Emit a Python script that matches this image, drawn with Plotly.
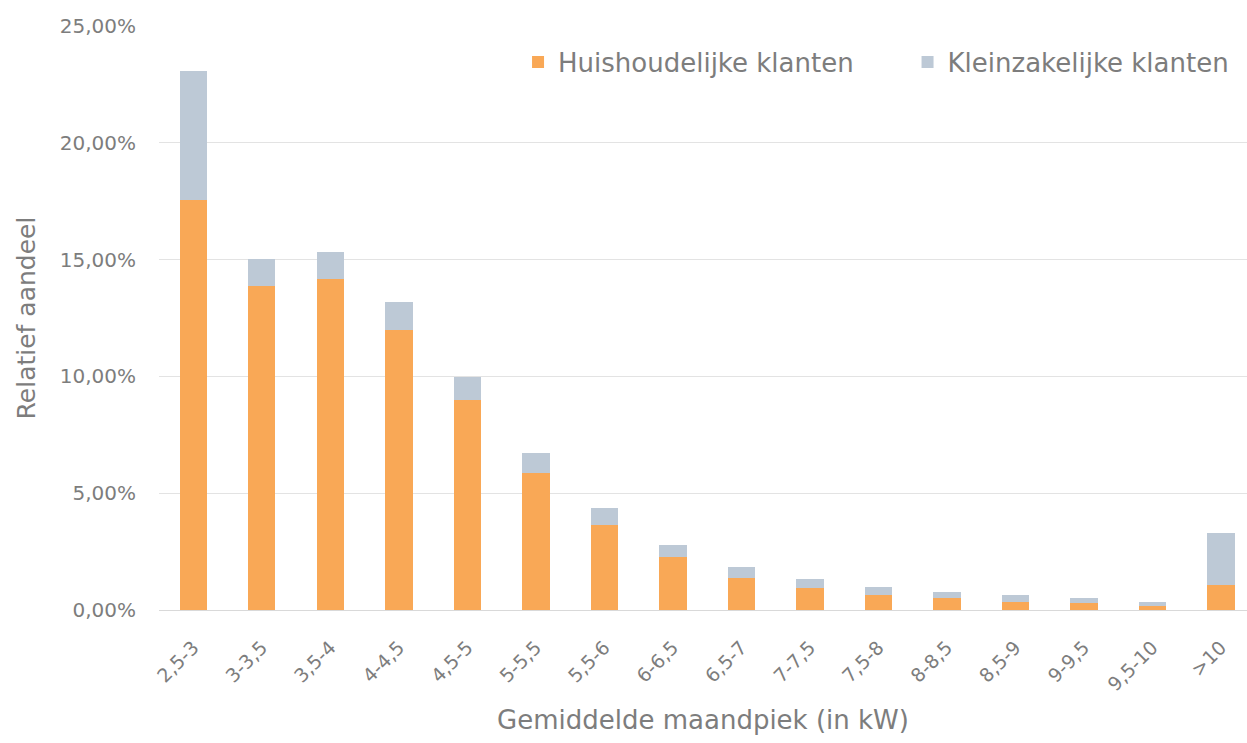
import plotly.graph_objects as go

categories = ["2,5-3", "3-3,5", "3,5-4", "4-4,5", "4,5-5", "5-5,5", "5,5-6", "6-6,5",
              "6,5-7", "7-7,5", "7,5-8", "8-8,5", "8,5-9", "9-9,5", "9,5-10", ">10"]
huishoudelijk = [17.56, 13.85, 14.15, 12.00, 8.97, 5.85, 3.63, 2.26,
                 1.37, 0.94, 0.64, 0.50, 0.34, 0.30, 0.17, 1.07]
totaal = [23.08, 15.04, 15.34, 13.20, 9.96, 6.70, 4.36, 2.78,
          1.84, 1.32, 0.98, 0.77, 0.64, 0.50, 0.34, 3.29]
kleinzakelijk = [round(t - h, 2) for t, h in zip(totaal, huishoudelijk)]
y_ticks = [0, 5, 10, 15, 20, 25]
y_ticktext = ["0,00%", "5,00%", "10,00%", "15,00%", "20,00%", "25,00%"]

FONT = "DejaVu Sans"
GREY = "#7d7d7d"

fig = go.Figure()
fig.add_trace(go.Bar(x=categories, y=huishoudelijk, name="Huishoudelijke klanten",
                     marker=dict(color="#F9A856", line=dict(width=0)),
                     legend="legend", showlegend=True))
fig.add_trace(go.Bar(x=categories, y=kleinzakelijk, name="Kleinzakelijke klanten",
                     marker=dict(color="#BDC9D6", line=dict(width=0)),
                     legend="legend2", showlegend=True))

legend_style = dict(orientation="h", y=0.938, yanchor="middle", xanchor="left",
                    font=dict(size=26, color=GREY), bgcolor="rgba(0,0,0,0)", itemwidth=30)

fig.update_layout(
    barmode="stack",
    bargap=0.6,
    width=1247, height=743,
    margin=dict(l=159, r=0, t=26, b=133),
    paper_bgcolor="white", plot_bgcolor="white",
    font=dict(family=FONT, color=GREY, size=20),
    showlegend=True,
    legend=dict(x=0.330, visible=True, **legend_style),
    legend2=dict(x=0.688, visible=True, **legend_style),
    xaxis=dict(range=[-0.5, 15.38], tickangle=-45, tickfont=dict(size=19, color=GREY),
               showgrid=False, showline=True, linecolor="#d9d9d9", linewidth=1,
               ticks="outside", ticklen=18, tickcolor="rgba(0,0,0,0)",
               title=dict(text="Gemiddelde maandpiek (in kW)",
                          font=dict(size=26, color=GREY), standoff=16)),
    yaxis=dict(range=[0, 25], tickvals=y_ticks, ticktext=y_ticktext,
               tickfont=dict(size=20, color=GREY), showgrid=True, gridcolor="#e3e3e3",
               gridwidth=1, zeroline=False, showline=False,
               ticks="outside", ticklen=18, tickcolor="rgba(0,0,0,0)",
               title=dict(text="Relatief aandeel", font=dict(size=25, color=GREY), standoff=16)),
)

fig.write_html("out.html", config={"displayModeBar": False},
               post_script="document.body.style.margin='0';")
